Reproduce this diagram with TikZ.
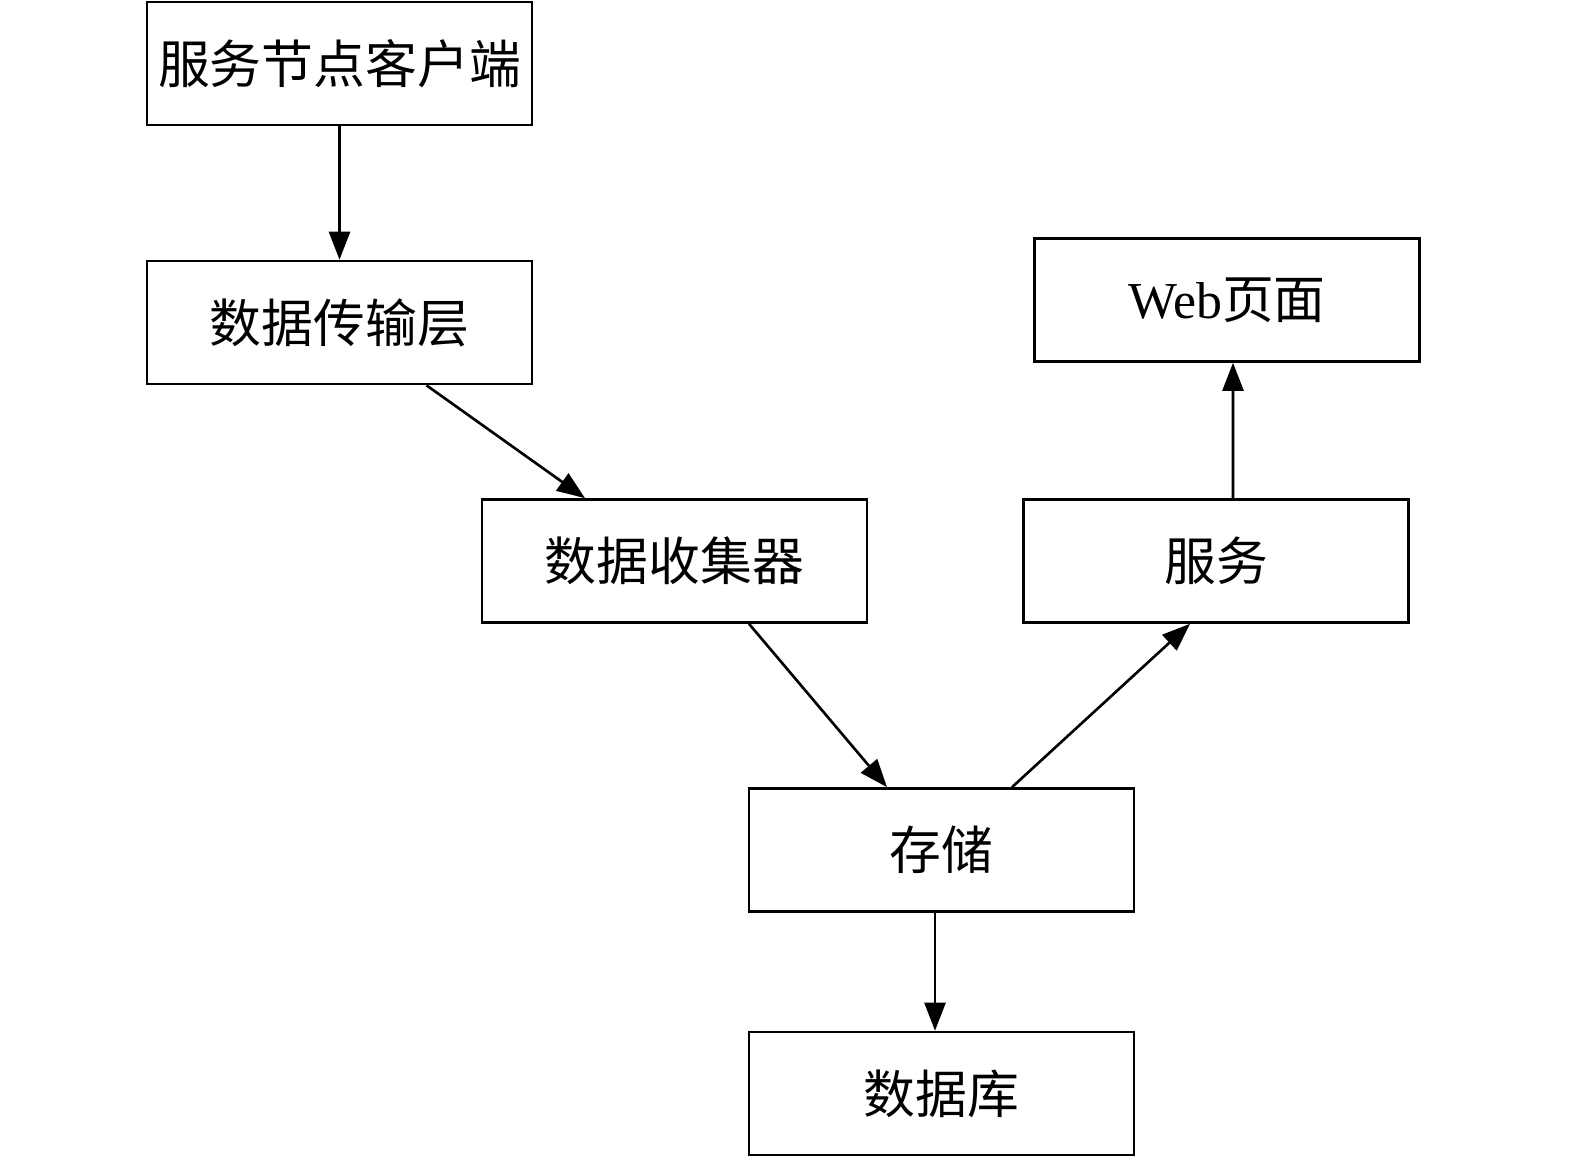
\documentclass[tikz,border=0pt]{standalone}
\usepackage{fontspec}
\setmainfont{Liberation Serif}
\newfontfamily\cjk{Noto Sans CJK SC}
\usetikzlibrary{arrows.meta,positioning}

\begin{document}
\begin{tikzpicture}[x=0.02cm,y=-0.02cm]
            \tikzstyle{every node}=[draw,line width=1.5pt,minimum width=7.7cm,minimum height=2.46cm,font=\fontsize{29.5}{31}\selectfont];
            \tikzstyle{flow}=[line width=1.5pt,-{Triangle[length=0.56cm,width=0.42cm]}];
            \useasboundingbox (0,0) rectangle (1575,1162);
            \node (client) at (339.5, 63.5) {\cjk 服务节点客户端};
            \node (trans) at (339.5, 322.5) {\cjk 数据传输层};
            \node (coll) at (674.5, 561) {\cjk 数据收集器};
            \node (serv) at (1216, 561) {\cjk 服务};
            \node (web) at (1227, 300) {Web{\cjk 页面}};
            \node (store) at (941.5, 850) {\cjk 存储};
            \node (db) at (941.5, 1093.5) {\cjk 数据库};
            \path[draw] [flow] (client) -- (trans);
            \path[draw] [flow] ([xshift=1.74cm]trans.south) -- ([xshift=-1.79cm]coll.north);
            \path[draw] [flow] ([xshift=1.49cm]coll.south) -- ([xshift=-1.09cm]store.north);
            \path[draw] [flow] ([xshift=1.41cm]store.north) -- ([xshift=-0.52cm]serv.south);
            \path[draw] [flow] ([xshift=0.34cm]serv.north) -- ([xshift=0.12cm]web.south);
            \path[draw] [flow] ([xshift=-0.13cm]store.south) -- ([xshift=-0.13cm]db.north);
        \end{tikzpicture}
\end{document}
